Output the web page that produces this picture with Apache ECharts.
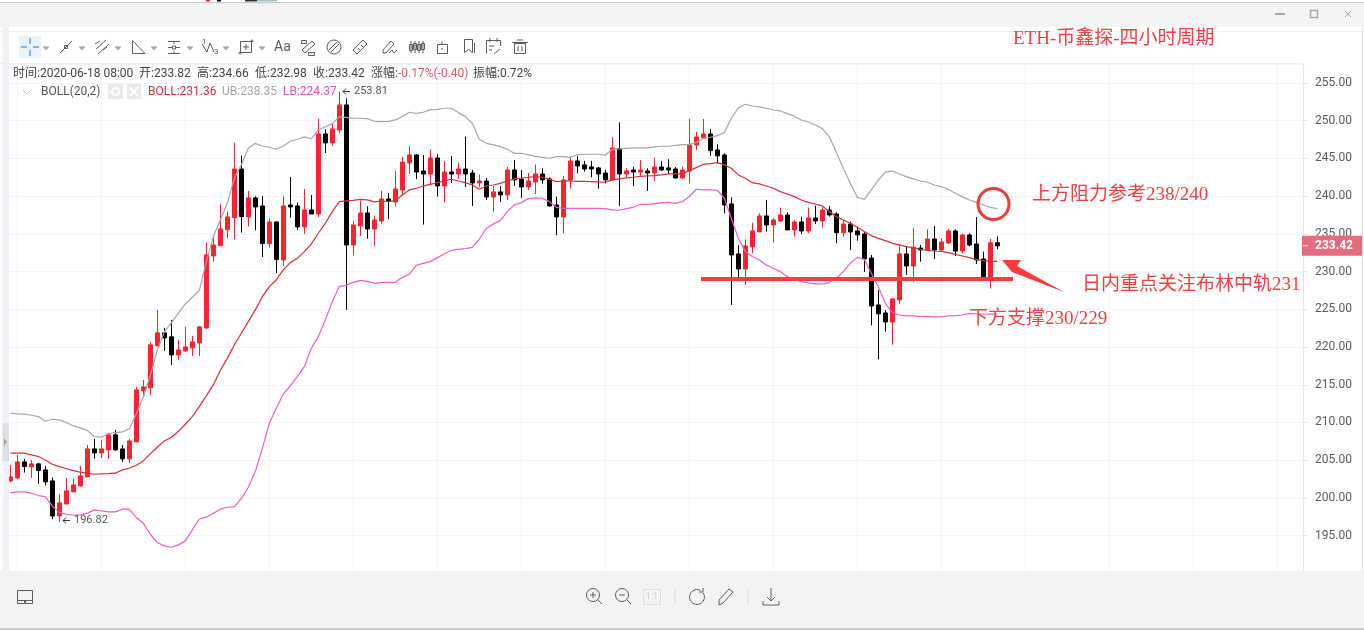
<!DOCTYPE html>
<html lang="en">
<head>
    <meta charset="utf-8">
    <title>ETH 4H BOLL</title>
    <style>
        html, body { margin: 0; padding: 0; background: #fff; }
        #main { width: 1364px; height: 630px; }
    </style>
    <script src="https://cdn.jsdelivr.net/npm/echarts@6/dist/echarts.min.js"></script>
</head>
<body>
    <div id="main"></div>

    <script type="text/javascript">
        // 四小时K线 开/高/低/收
        const opens = [202.26,202.66,204.78,204.12,204.51,203.72,202.26,197.62,199.21,200.8,201.6,202.79,206.5,205.97,206.37,208.36,206.5,205.18,207.43,214.19,214.59,220.15,221.88,221.35,218.96,219.49,219.89,220.55,222.53,232.07,233.44,235.56,237.15,243.6,237.24,239.76,238.7,233.71,236.58,231.54,238.83,238.7,235.92,238.17,237.64,248.24,247.05,248.77,252.09,233.53,236.05,237.77,235.65,236.71,239.63,239.23,240.82,244.4,245.46,243.34,242.94,245.06,241.35,243.2,242.94,243.6,243.07,241.75,242.01,239.89,240.56,240.16,243.47,242.28,241.22,241.88,242.94,242.28,238.83,237.24,242.15,244.67,244.14,243.87,243.74,243.07,242.15,246.3,242.94,243.47,243.2,243.34,243.07,243.87,243.74,243.6,242.41,243.34,246.79,247.71,248.24,246.12,245.46,238.97,232.34,230.35,233.27,235.26,237.38,236.18,236.71,237.51,235.52,236.58,235.39,237.11,236.71,238.17,237.64,235.16,236.31,235.39,234.99,231.8,225.58,224.52,223.32,226.24,232.34,230.75,233.13,232.87,234.32,232.87,233.79,235.39,232.73,234.86,233.66,231.67,229.25,233.82];
        const highs = [204.38,205.7,205.18,205.04,204.65,204.25,202.7,200.54,202.66,202.53,204.25,207.03,207.83,207.7,208.5,209.02,207.03,207.83,214.72,215.65,220.68,224.92,222.54,223.6,220.95,222.67,221.48,222.8,233.84,234.55,238.92,237.95,247.05,245.37,240.69,239.98,240.03,237.07,236.67,240.03,242.54,239.14,240.95,240.16,250.23,248.86,249.66,253.81,252.97,236.71,239.41,238.66,237.38,240.69,240.42,243.38,245.2,246.65,245.59,245.46,246.21,245.55,244.67,245.33,244.4,247.89,243.47,242.85,242.41,241.35,241.35,243.87,244.8,243.47,243.07,244.18,243.69,242.5,239.94,242.68,245.2,245.33,244.67,244.67,243.87,243.47,247.8,249.79,243.74,243.91,244.8,243.69,245.11,244.67,244.89,243.87,243.91,250.23,248.51,250.23,248.91,246.87,245.68,239.85,233.53,234.28,236.49,237.73,239.5,237.07,238.48,237.86,236.85,237.28,238.48,238.74,238.52,238.7,237.86,236.84,236.62,235.96,235.25,232.2,227.57,224.91,226.5,233.53,233.31,235.78,233.53,235.6,236.05,234.41,235.65,235.6,235.07,235.07,237.24,232.65,234.32,234.66];
        const lows = [202.08,202.5,203.37,202.66,201.86,201.64,197.18,196.82,199.21,200.8,201.47,202.79,205.18,205.3,205.18,206.24,204.78,204.65,207.43,213.62,213.62,220.15,219.49,217.63,218.3,219.36,218.83,218.83,222.4,231.32,233.44,234.4,234.28,235.17,235.96,235.48,231.94,233.18,229.82,230.75,237.15,235.52,235,237.64,237.24,245.72,246.65,248.33,224.92,232.16,234.72,234.37,233.4,236.32,236.93,238.61,240.16,242.94,242.28,236.23,241.48,239.94,239.14,241.75,242.28,241.22,238.7,241.17,239.5,237.91,239.23,239.5,241.35,239.76,240.82,240.29,241.62,238.61,234.81,235.08,241,243.03,243.25,242.5,241,241.71,242.15,238.7,242.5,241.35,242.59,240.69,242.01,243.34,242.94,242.32,242.32,241.71,246.12,247.71,245.33,244.36,237.73,225.58,229.11,228.23,232.43,235.26,235.3,233.84,236.58,235.52,234.64,234.99,235.08,236.31,235.87,237.28,233.75,234.63,232.87,234.1,229.95,222.88,218.38,222.04,220.32,225.71,229.55,228.63,231.32,232.87,231.67,232.73,233.66,232.07,232.43,233.35,231,229.2,227.74,232.98];
        const closes = [202.79,204.78,204.16,204.51,203.63,202.13,197.62,199.35,200.94,201.73,202.92,206.5,205.97,206.5,208.36,206.37,205.18,207.56,214.32,214.72,220.29,221.88,221.21,218.96,219.62,220.02,220.68,222.67,232.21,233.53,235.65,237.24,243.6,237.29,239.76,238.57,233.71,236.58,231.59,238.7,238.57,235.92,238.17,237.64,248.24,247.05,248.91,252.09,233.53,236.18,237.77,235.65,236.85,239.63,239.36,240.95,244.53,245.46,243.2,242.94,245.06,241.35,243.2,242.94,243.6,242.94,241.75,242.01,239.89,240.56,240.16,243.47,242.15,241.22,242.01,242.94,242.15,238.7,237.24,242.15,244.67,244,243.6,243.6,242.94,242.15,246.39,242.94,243.34,243.2,243.47,243.07,243.87,243.47,243.47,242.41,243.47,246.79,247.85,248.24,246.03,245.33,238.83,232.21,230.35,233.4,235.39,237.38,236.18,236.85,237.51,235.52,236.58,235.39,237.11,236.71,238.17,237.51,235.16,236.31,235.25,234.86,231.67,225.45,224.39,223.32,226.37,232.34,230.75,233.22,232.87,234.32,232.87,233.93,235.39,232.73,234.86,233.53,231.54,229.33,233.82,233.42];

        // BOLL(20,2) 上轨/中轨/下轨
        const bollUpper = [211.23,211.14,211.1,210.96,210.79,210.17,210.43,210.35,209.99,209.55,209.29,208.93,208.14,208.05,208.53,208.67,208.76,209.15,211.14,213.35,216.2,219.6,222,223.2,224.47,225.71,226.6,227.48,231.32,234.64,236.84,239.05,242.37,244.13,246.34,247,246.65,246.48,246.21,246.65,247.27,247.54,247.85,247.58,248.77,249.2,249.61,250.54,250.45,250.32,250.32,250.28,249.92,249.88,249.92,250.1,250.54,251.12,250.98,251.12,251.47,251.51,251.65,251.65,251.07,250.54,249.66,247.54,247,246.79,246.56,246.21,245.68,245.68,245.46,245.28,245.15,245.02,245.24,245.24,245.15,245.5,245.55,245.55,245.55,245.42,246.21,246.26,246.34,246.39,246.39,246.39,246.52,246.61,246.61,246.74,246.83,246.87,247.1,247.67,247.8,248.02,248.42,250.32,251.69,252.18,251.95,251.82,251.65,251.42,251.29,250.93,250.6,250.09,249.83,249.43,248.95,247.88,245.81,243.69,241.7,239.85,239.58,240.82,242.14,243.16,243.34,242.94,242.59,242.28,242.01,241.84,241.48,241.26,240.91,240.38,239.94,239.49,239.18,238.83,238.52,238.35];
        const bollMid = [205.93,205.93,205.93,205.71,205.49,205.04,204.47,204.16,203.9,203.63,203.41,203.28,203.14,203.19,203.23,203.28,203.72,203.94,204.34,204.91,205.84,206.72,207.56,208.05,208.8,209.77,210.79,212.11,213.53,214.98,216.9,218.5,220.28,221.82,223.37,224.92,226.68,228.01,228.89,230.22,231.19,231.76,232.65,233.66,235.08,236.4,237.95,239.27,239.36,239.45,239.58,239.5,239.23,239.36,239.27,239.36,240.16,240.82,241.04,241.35,241.57,241.79,242.01,242.24,242.01,241.79,241.48,240.91,241.35,241.48,241.7,242.01,242.28,242.37,242.5,242.59,242.5,242.24,241.93,242.01,242.01,241.97,241.97,241.93,241.88,241.84,242.15,242.28,242.41,242.5,242.63,242.68,242.72,242.81,242.94,242.94,242.94,243.38,243.78,244.22,244.31,244.44,244.14,243.69,242.81,242.37,241.79,241.62,241.35,241.04,240.6,240.29,239.94,239.49,239.18,238.96,238.7,237.95,237.28,236.84,236.4,235.87,235.3,234.77,234.41,234.1,233.75,233.53,233.31,233.18,232.96,232.82,232.73,232.69,232.51,232.29,232.07,231.85,231.63,231.45,231.36,231.36];
        const bollLower = [200.67,200.8,200.8,200.63,200.32,200.18,198.95,198.06,197.84,197.71,197.75,197.98,198.42,198.28,198.15,198.15,198.51,198.51,197.4,196.65,195.19,194.09,193.65,193.47,193.78,194.31,195.77,197.18,197.45,197.98,198.51,198.77,198.86,199.9,201.41,203.49,206.58,209.89,211.88,213.78,214.84,216.08,217.4,219.83,221.38,223.59,226.02,228.05,228.18,228.58,228.84,228.71,228.45,228.54,228.58,228.58,229.24,229.64,230.83,231.1,231.32,231.85,232.33,232.82,232.95,233.04,233.22,234.28,235.74,236.32,236.76,237.95,238.83,239.14,239.67,239.76,239.72,239.27,238.52,238.39,238.39,238.39,238.39,238.39,238.39,238.35,238.17,238.13,238.35,238.52,238.92,238.92,239.01,239.1,239.19,239.05,239.27,239.94,240.91,240.82,240.82,240.78,239.72,237.07,234.41,232.65,231.99,231.54,230.88,230.44,230,229.33,228.98,228.67,228.49,228.36,228.36,228.54,229.11,229.99,231.1,231.89,231.63,229.77,228.01,225.8,224.56,224.25,224.12,224.12,224.07,224.03,223.99,223.99,224.12,224.16,224.25,224.47,224.38,224.38,224.37,224.37];

        const lastTime = '2020-06-18 08:00';
        const changeText = '-0.17%(-0.40)';
        const ampText = '0.72%';
        const maxLabel = '253.81';
        const minLabel = '196.82';
        const titleText = 'ETH-币鑫探-四小时周期';
        const noteUpper = '上方阻力参考238/240';
        const noteMid = '日内重点关注布林中轨231';
        const noteLower = '下方支撑230/229';

        const UP = '#f9242f';
        const DOWN = '#000000';
        const NOTE = '#f44040';
        const ICON = '#5c5c5c';
        const BAR_FONT = '12px Roboto, "Noto Sans CJK SC", sans-serif';
        const NOTE_FONT = '19px "Liberation Serif", "Noto Sans CJK SC", serif';

        // 横轴：前面留一格空位，后面留到右边框
        const TOTAL = 187;
        let categories = [];
        for (let k = 0; k < TOTAL; k++) {
            categories.push(String(k));
        }

        function padded(list) {
            let out = ['-'];
            list.forEach((v) => out.push(v));
            return out;
        }

        let candleData = ['-'];
        closes.forEach((c, i) => {
            candleData.push([opens[i], c, lows[i], highs[i]]);
        });

        function lineSeries(name, data, color) {
            return {
                name: name,
                type: 'line',
                data: padded(data),
                symbol: 'none',
                smooth: false,
                lineStyle: { color: color, width: 1.2 },
                silent: true
            };
        }

        let chart = echarts.init(document.getElementById('main'));

        chart.setOption({
            animation: false,
            backgroundColor: '#ffffff',
            grid: { left: 3.3, top: 64.1, width: 1302, height: 509.3 },
            xAxis: {
                type: 'category',
                data: categories,
                boundaryGap: false,
                axisLine: { show: false },
                axisTick: { show: false },
                axisLabel: { show: false },
                splitLine: {
                    show: true,
                    interval: (index) => index % 12 === 2,
                    lineStyle: { color: '#f1f4f8', width: 1 }
                }
            },
            yAxis: {
                type: 'value',
                position: 'right',
                offset: -2.3,
                min: 190,
                max: 257.5,
                interval: 5,
                scale: true,
                axisLine: { show: true, onZero: false, lineStyle: { color: '#e4e6ea' } },
                axisTick: { show: true, length: 5, lineStyle: { color: '#e4e6ea' } },
                axisLabel: {
                    showMinLabel: false,
                    showMaxLabel: false,
                    margin: 12,
                    color: '#555a64',
                    fontSize: 12,
                    fontFamily: 'Roboto',
                    padding: [3, 0, 0, 0],
                    formatter: (v) => v.toFixed(2)
                },
                splitLine: { show: true, lineStyle: { color: '#f1f4f8', width: 1 } }
            },
            series: [
                {
                    name: 'ETH',
                    type: 'candlestick',
                    data: candleData,
                    barWidth: 5,
                    itemStyle: {
                        color: UP,
                        color0: DOWN,
                        borderColor: UP,
                        borderColor0: DOWN,
                        borderWidth: 1
                    }
                },
                lineSeries('UB', bollUpper, '#a6a6a6'),
                lineSeries('BOLL', bollMid, '#d5303e'),
                lineSeries('LB', bollLower, '#ec5fc8')
            ]
        });

        // 小工具：画界面和标注
        const Z = 100;
        function rc(x, y, w, h, fill) {
            return { type: 'rect', silent: true, z: Z, shape: { x: x, y: y, width: w, height: h }, style: { fill: fill } };
        }
        function bx(x, y, w, h, c, lw) {
            return { type: 'rect', silent: true, z: Z + 1, shape: { x: x, y: y, width: w, height: h }, style: { fill: 'none', stroke: c || ICON, lineWidth: lw || 1 } };
        }
        function ln(x1, y1, x2, y2, c, lw) {
            return { type: 'line', silent: true, z: Z + 1, shape: { x1: x1, y1: y1, x2: x2, y2: y2 }, style: { stroke: c || ICON, lineWidth: lw || 1 } };
        }
        function pl(points, c, lw) {
            return { type: 'polyline', silent: true, z: Z + 1, shape: { points: points }, style: { fill: 'none', stroke: c || ICON, lineWidth: lw || 1 } };
        }
        function pg(points, fill) {
            return { type: 'polygon', silent: true, z: Z + 1, shape: { points: points }, style: { fill: fill } };
        }
        function cr(cx, cy, r, c, lw) {
            return { type: 'circle', silent: true, z: Z + 1, shape: { cx: cx, cy: cy, r: r }, style: { fill: 'none', stroke: c || ICON, lineWidth: lw || 1 } };
        }
        function tx(text, x, y, color, font, align) {
            return {
                type: 'text', silent: true, z: Z + 2,
                style: { text: text, x: x, y: y, fill: color, font: font || BAR_FONT, textAlign: align || 'left', textVerticalAlign: 'middle' }
            };
        }
        // 小箭头 ←
        function arrow(x, y) {
            return [ln(x, y, x + 7, y, '#333333'), pl([[x + 3, y - 3], [x, y], [x + 3, y + 3]], '#333333')];
        }

        let overlay = [];

        // 窗口边框
        overlay.push(rc(0, 0, 1364, 3, '#ffffff'));
        overlay.push(rc(206, 0, 4, 1.5, '#f9242f'), rc(217, 0, 4, 1.5, '#000000'), rc(245, 0, 12, 1.5, '#333333'), rc(257, 0, 20, 1.5, '#9fc4c8'));
        overlay.push(rc(0, 2, 1364, 1.5, '#cccccc'));
        overlay.push(rc(0, 3.5, 1364, 23.5, '#f4f4f4'));
        overlay.push(rc(0, 27, 1364, 37, '#ffffff'));
        overlay.push(ln(0, 31.5, 1364, 31.5, '#f1f1f1'), ln(0, 63.5, 1303, 63.5, '#eeeeee'));
        overlay.push(ln(1275, 14, 1285, 14, '#a8a8a8', 2));
        overlay.push(bx(1310.5, 10.5, 7, 7, '#a8a8a8', 1.5));
        overlay.push(ln(1345, 11, 1351, 17, '#a8a8a8'), ln(1351, 11, 1345, 17, '#a8a8a8'));

        // 左侧收起条
        overlay.push(rc(0, 27, 2.5, 545, '#ffffff'));
        overlay.push(rc(2.5, 27, 6.5, 545, '#eef1f7'));
        overlay.push(rc(2.5, 423, 6.5, 38, '#dde0e6'));
        overlay.push(pg([[4, 438], [7, 442], [4, 446]], '#9a9fa8'));
        overlay.push(ln(1362.5, 27, 1362.5, 571, '#e2e2e2'));

        // 画线工具栏
        overlay.push(rc(19, 36, 22, 22, '#e8f3fd'));
        [[21, 47, 27, 47], [33, 47, 39, 47], [30, 38, 30, 44], [30, 50, 30, 56]].forEach((p) => {
            overlay.push(ln(p[0], p[1], p[2], p[3], '#2b8ef0', 1.2));
        });
        [46, 82, 118, 154, 190, 226, 262].forEach((x) => {
            overlay.push(pg([[x - 3.5, 46.5], [x + 3.5, 46.5], [x, 50.5]], '#a6a6a6'));
        });
        overlay.push(ln(60, 53, 72, 41), bx(64.5, 45.5, 3, 3));
        overlay.push(ln(96, 49, 106, 40), ln(98, 54, 109, 44), ln(95, 44, 100, 41), ln(103, 50, 107, 47));
        overlay.push(pl([[132.5, 40.5], [132.5, 53.5], [145, 53.5], [132.5, 40.5]]));
        overlay.push(ln(168, 41.5, 180, 41.5), ln(168, 47.5, 172, 47.5), ln(176, 47.5, 180, 47.5), ln(168, 53.5, 180, 53.5), bx(172.5, 46, 3, 3), ln(174, 41, 174, 44), ln(174, 51, 174, 53));
        overlay.push(pl([[202, 44], [207, 52], [210, 43], [214, 52]]), tx('1', 202, 42, ICON, '8px Roboto'), tx('3', 214, 52, ICON, '8px Roboto'));
        overlay.push(bx(240.5, 41.5, 11, 11), ln(243, 47, 249, 47), ln(246, 44, 246, 50), cr(252, 41, 1), cr(240, 53, 1));
        overlay.push(tx('Aa', 274, 47, ICON, '14px Roboto'));
        overlay.push(bx(301.5, 40.5, 5, 3), bx(308.5, 52.5, 6, 3), ln(302, 50, 312, 41), ln(305, 53, 315, 44), ln(302, 50, 305, 53), ln(312, 41, 315, 44));
        overlay.push(cr(334, 47, 7), ln(329, 50, 337, 42), ln(331, 52, 339, 44));
        overlay.push(ln(353, 50, 363, 40), ln(357, 54, 367, 44), ln(353, 50, 357, 54), ln(363, 40, 367, 44), ln(358, 48, 360, 50), ln(361, 45, 363, 47));
        overlay.push(pl([[383, 53], [383, 50], [391, 41], [394, 44], [386, 53], [383, 53]]), pl([[389, 53], [392, 50], [394, 53], [397, 50]]));
        [411, 415, 419, 423].forEach((x, i) => {
            overlay.push(ln(x, 41, x, 53), bx(x - 1.5, i % 2 ? 43.5 : 44.5, 3, 6));
        });
        overlay.push(bx(437.5, 44.5, 10, 9), ln(442, 41, 442, 44), ln(442, 48, 442, 50));
        overlay.push(pl([[464.5, 39.5], [472.5, 39.5], [472.5, 52.5], [468.5, 49.5], [464.5, 52.5], [464.5, 39.5]]), ln(474.5, 43, 474.5, 53));
        overlay.push(pl([[486.5, 53.5], [486.5, 40.5], [500.5, 40.5], [500.5, 46]]), ln(490, 38, 490, 42), ln(497, 38, 497, 42), ln(489, 46, 494, 46), ln(489, 50, 492, 50), ln(494, 54, 500, 49));
        overlay.push(bx(514.5, 43.5, 11, 10), ln(512, 42.5, 528, 42.5), ln(517, 40, 523, 40), ln(518, 46, 518, 51), ln(522, 46, 522, 51));

        // 行情信息
        overlay.push(tx('时间:' + lastTime, 13, 74, '#444444'));
        overlay.push(tx('开:' + opens[opens.length - 1].toFixed(2), 139, 74, '#444444'));
        overlay.push(tx('高:' + highs[highs.length - 1].toFixed(2), 197, 74, '#444444'));
        overlay.push(tx('低:' + lows[lows.length - 1].toFixed(2), 255, 74, '#444444'));
        overlay.push(tx('收:' + closes[closes.length - 1].toFixed(2), 313, 74, '#444444'));
        overlay.push(tx('涨幅:', 371, 74, '#444444'));
        overlay.push(tx(changeText, 398, 74, '#e8566a'));
        overlay.push(tx('振幅:' + ampText, 473, 74, '#444444'));

        overlay.push(pl([[23, 90], [27, 94], [31, 90]], '#c8c8c8'));
        overlay.push(tx('BOLL(20,2)', 41, 91.5, '#555555'));
        overlay.push(rc(108, 84, 15, 15, '#e9e9e9'), rc(127, 84, 14, 15, '#e9e9e9'));
        overlay.push(cr(115.5, 91.5, 3.5, '#ffffff', 2));
        overlay.push(ln(130, 87, 138, 96, '#ffffff', 2), ln(138, 87, 130, 96, '#ffffff', 2));
        overlay.push(tx('BOLL:' + bollMid[bollMid.length - 1].toFixed(2), 148, 91.5, '#d5303e'));
        overlay.push(tx('UB:' + bollUpper[bollUpper.length - 1].toFixed(2), 222, 91.5, '#a6a6a6'));
        overlay.push(tx('LB:' + bollLower[bollLower.length - 1].toFixed(2), 283, 91.5, '#e54fc2'));
        overlay.push(...arrow(343, 91.5), tx(maxLabel, 354, 91.5, '#555555', '11px Roboto'));
        overlay.push(...arrow(63, 520.5), tx(minLabel, 74, 520.5, '#555555', '11px Roboto'));

        // 手绘标注
        overlay.push(tx(titleText, 1013, 39, NOTE, NOTE_FONT));
        overlay.push(tx(noteUpper, 1032, 195, NOTE, NOTE_FONT));
        overlay.push(tx(noteMid, 1082, 285, NOTE, NOTE_FONT));
        overlay.push(tx(noteLower, 969, 319, NOTE, NOTE_FONT));
        overlay.push(rc(701, 277, 312, 4, '#ff3b3b'));
        overlay.push(cr(993.5, 204, 15.5, '#f03a3a', 3));
        overlay.push(pg([[1002, 260], [1021, 260], [1017, 266], [1064, 292], [1012, 272]], '#ff3b3b'));

        // 底部工具栏
        overlay.push(rc(0, 571, 1364, 57, '#f3f3f3'));
        overlay.push(rc(0, 628, 1364, 2, '#cccccc'));
        overlay.push(bx(17.5, 590.5, 15, 10), bx(17.5, 600.5, 7, 3), bx(25.5, 600.5, 7, 3));
        overlay.push(cr(593, 595, 6.5), ln(598, 600, 602, 604), ln(590, 595, 596, 595), ln(593, 592, 593, 598));
        overlay.push(cr(622, 595, 6.5), ln(627, 600, 631, 604), ln(619, 595, 625, 595));
        overlay.push(bx(643.5, 589.5, 17, 15, '#dedede'), tx('1:1', 652, 597, '#d0d0d0', '9px Roboto', 'center'));
        overlay.push(ln(675, 589, 675, 605, '#dddddd'), ln(748, 589, 748, 605, '#dddddd'));
        overlay.push({
            type: 'arc', silent: true, z: Z + 1,
            shape: { cx: 697, cy: 597, r: 7.5, startAngle: -0.6, endAngle: 5.2, clockwise: true },
            style: { fill: 'none', stroke: ICON, lineWidth: 1 }
        });
        overlay.push(pl([[703, 588], [703, 592], [699, 592]]));
        overlay.push(pl([[719, 605], [719, 600], [729, 589], [733, 592], [723, 603], [719, 605]]));
        overlay.push(ln(771, 588, 771, 601), pl([[767, 597], [771, 601], [775, 597]]), pl([[763, 601], [763, 605], [779, 605], [779, 601]]));

        // 最新价标签
        let lastClose = closes[closes.length - 1];
        let tagY = chart.convertToPixel({ yAxisIndex: 0 }, lastClose);
        overlay.push(rc(1302, tagY - 10, 60, 20, '#e56c7c'));
        overlay.push(ln(1303, tagY, 1308, tagY, '#ffffff'));
        overlay.push(tx(lastClose.toFixed(2), 1315, tagY, '#ffffff', 'bold 12px Roboto'));

        chart.setOption({ graphic: { elements: overlay } });
    </script>
</body>
</html>
